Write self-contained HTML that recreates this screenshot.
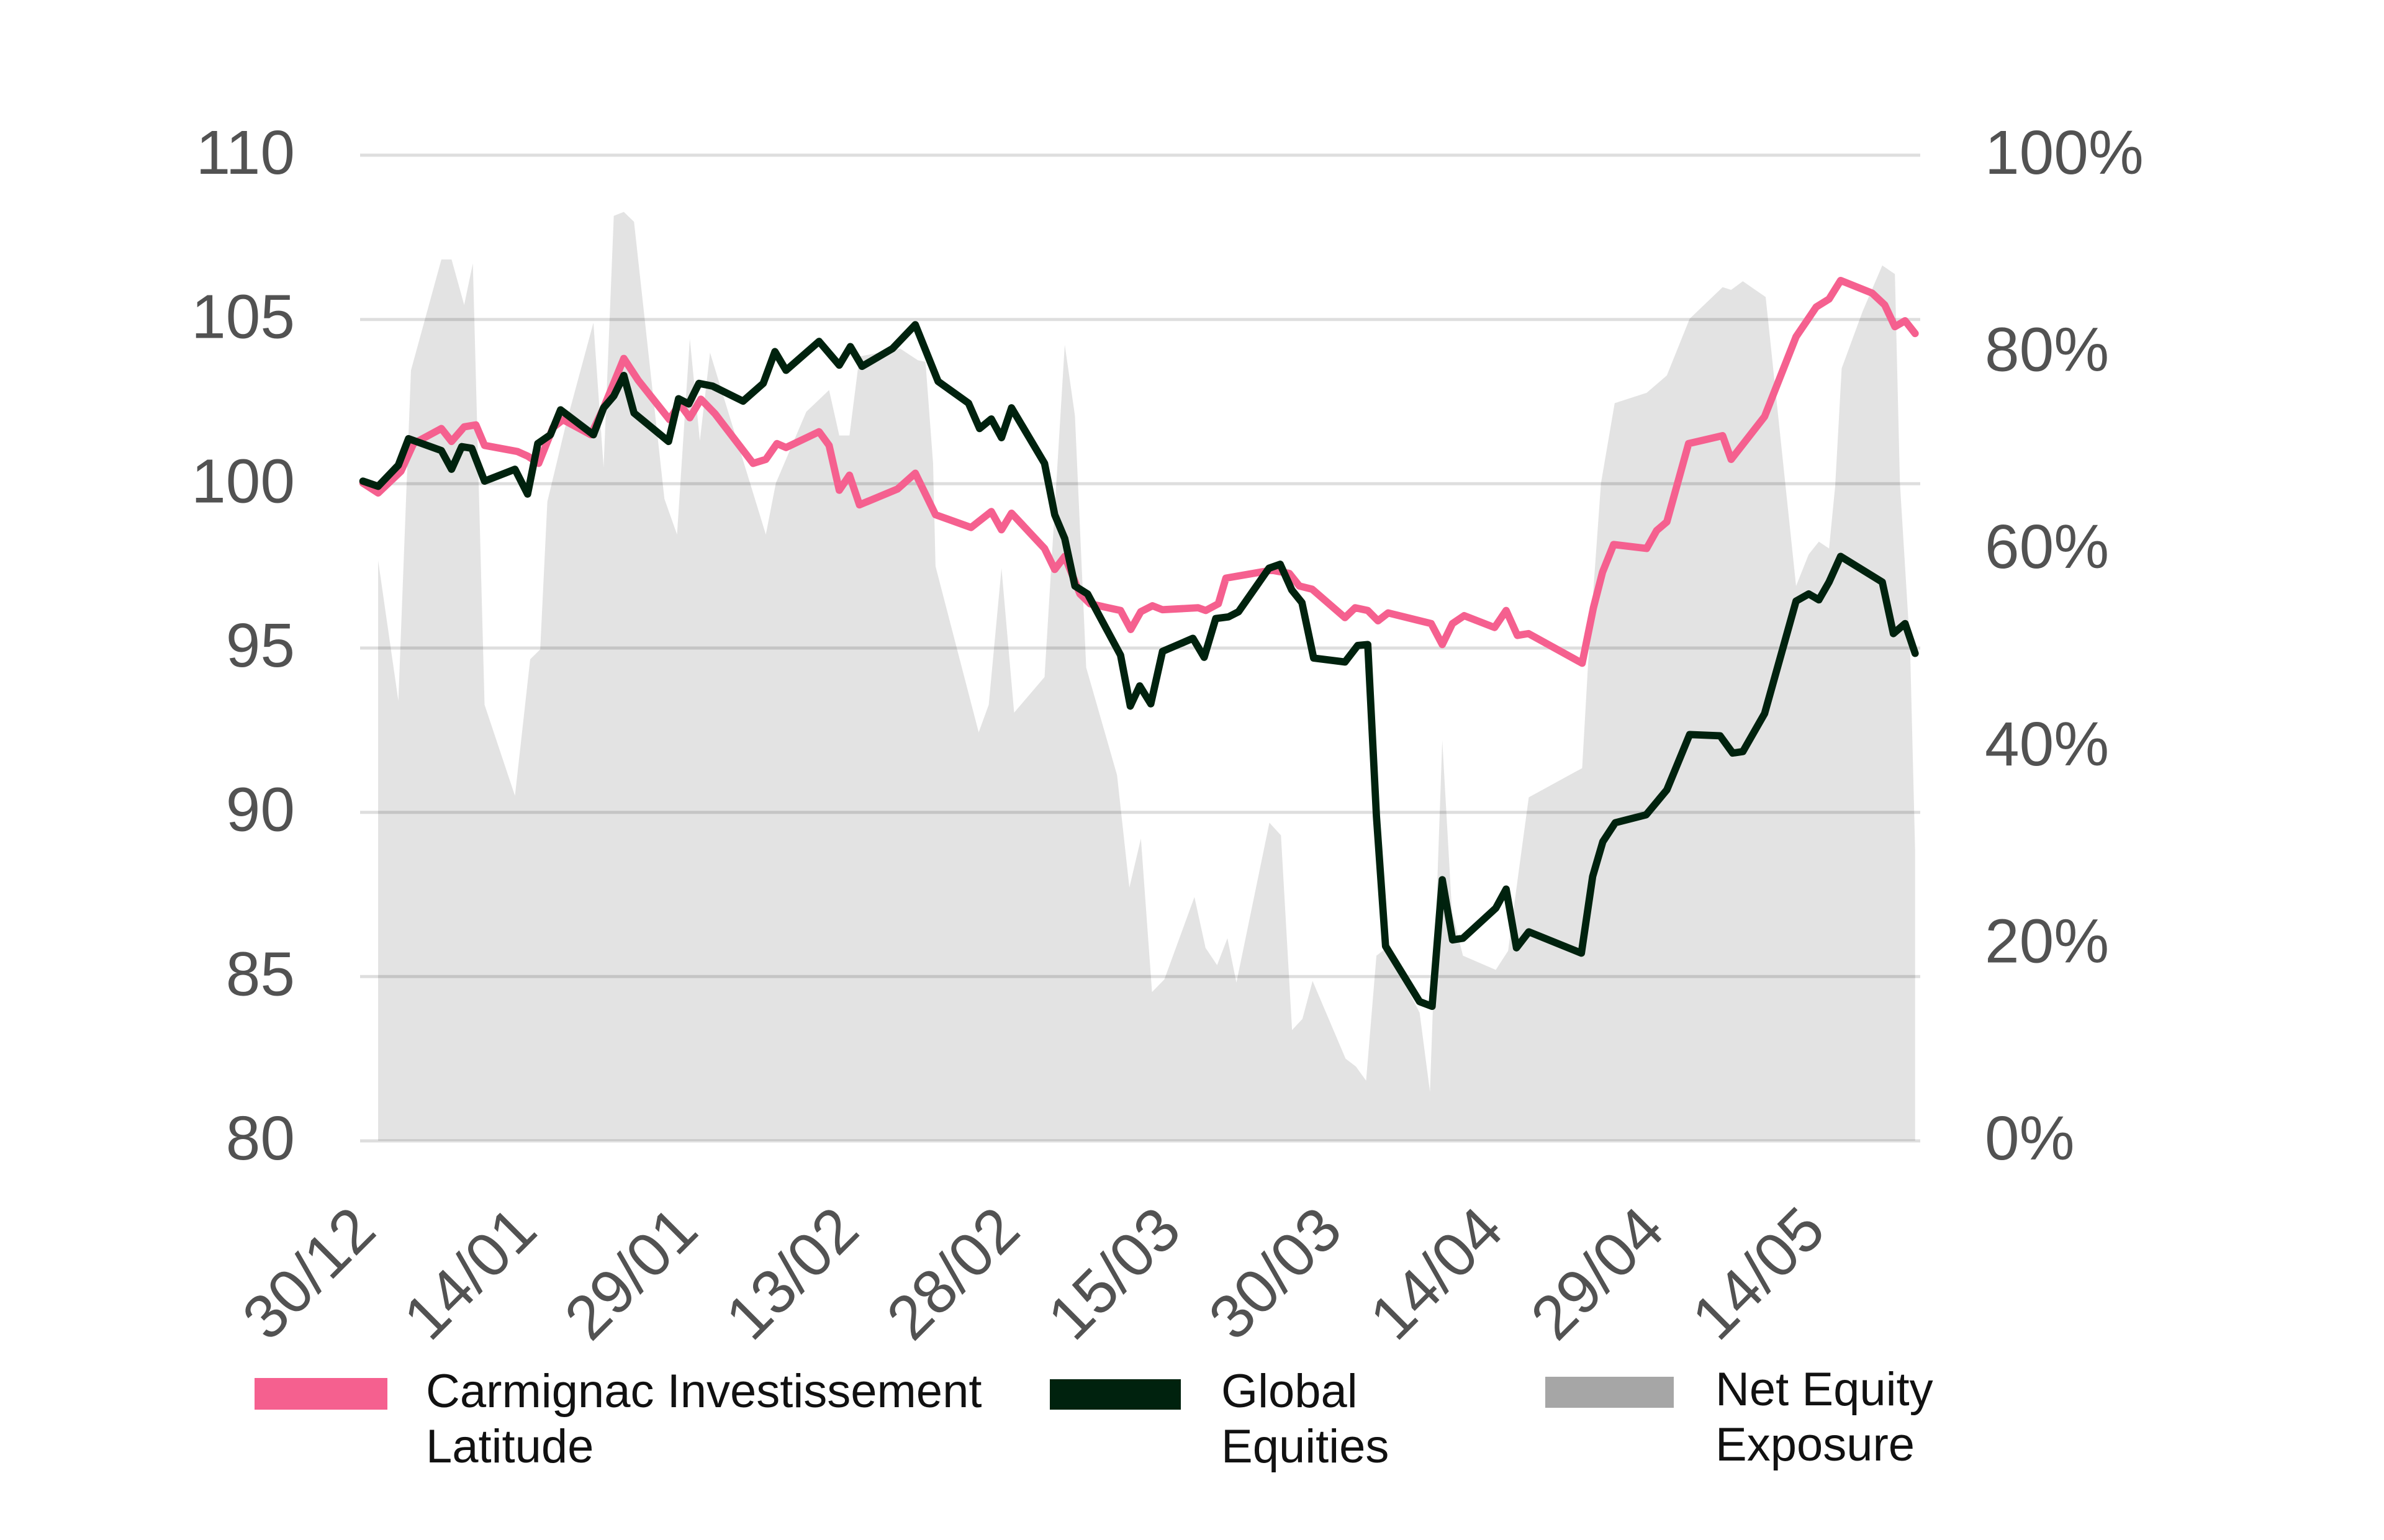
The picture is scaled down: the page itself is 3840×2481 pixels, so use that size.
<!DOCTYPE html>
<html>
<head>
<meta charset="utf-8">
<style>
  html, body { margin: 0; padding: 0; background: #ffffff; }
  svg { display: block; }
  .ax { font-family: "Liberation Sans", Arial, sans-serif; font-size: 100px; fill: #525252; }
  .lg { font-family: "Liberation Sans", Arial, sans-serif; font-size: 76px; fill: #111111; }
</style>
</head>
<body>
<svg width="3840" height="2481" viewBox="0 0 3840 2481" xmlns="http://www.w3.org/2000/svg">
  <rect x="0" y="0" width="3840" height="2481" fill="#ffffff"/>

  <!-- Net equity exposure area (display coords scaled) -->
  <g transform="scale(2.449)">
    <polygon fill="#e3e3e3" points="
      248.7,750.4 248.7,368.6 262,461 270.3,243.6 290.3,170.7 297,170.7 305.3,200.6 311,173.3
      318.7,463.6 338.7,523.5 348.7,433.7 355.3,427.2 360,330 372,280 390.3,212.3 397,307.4
      403.7,142 410.3,139.4 417,145.9 437,328.2 445.3,351.6 453.7,222.8 460.3,290 467,232
      503.7,351.6 510.3,317.8 530.3,270.9 545.3,256.6 552,286.5 558.7,286.5 565.3,234.5
      592,229.3 603.7,237 608.7,238 613.7,304.8 615.3,372.5 643.7,481.8 650.3,463.6
      658.7,373.8 667,468.8 687,445.4 700.3,226.7 707,273.5 714.4,439.1 734.7,509.9
      742.8,583.9 750.4,551.6 757.7,652.6 765.8,644.3 785.6,590.1 792.9,623.5 800.5,634.9
      807.3,617.2 813.2,646.4 834.9,541.2 842.5,549.5 849.8,677.6 856.6,670.3 863.3,645.3
      885,696.4 891.8,701.6 898.5,710.9 905.3,628.7 912.1,623.5 933.7,666.2 940.5,718.2
      948.6,487 955,600 962.2,628.7 983.8,638 991.9,625.5 998.7,574.5 1005.5,524.5
      1040.6,505.3 1044.6,435 1053,317.8 1062,265.2 1083,258.4 1096.3,247 1111.3,209.7
      1133,188.9 1138.6,190.7 1146.3,185 1161.3,195.4 1181.3,385.5 1189.6,364.7 1196.3,356.3
      1203,360.8 1207,320 1211.3,242.3 1225,205 1238,174.6 1246.3,180.3 1249.6,317.8
      1256.3,426.6 1259.6,560 1259.6,750.4"/>
  </g>

  <!-- gridlines -->
  <g stroke="rgba(0,0,0,0.13)" stroke-width="5">
    <line x1="580" y1="250" x2="3093" y2="250"/>
    <line x1="580" y1="514.7" x2="3093" y2="514.7"/>
    <line x1="580" y1="779.3" x2="3093" y2="779.3"/>
    <line x1="580" y1="1044" x2="3093" y2="1044"/>
    <line x1="580" y1="1308.7" x2="3093" y2="1308.7"/>
    <line x1="580" y1="1573.3" x2="3093" y2="1573.3"/>
    <line x1="580" y1="1838" x2="3093" y2="1838"/>
  </g>

  <!-- series -->
  <g transform="scale(2.449)" fill="none" stroke-linejoin="round" stroke-linecap="round">
    <polyline stroke="#f5608f" stroke-width="4.8" points="
      238.7,317.8 248.7,324.3 263.7,310 272,291.8 290.3,281.9 297,290.4 305.3,280.8 313,279.5
      318.7,293 340.3,297 347,300 354.3,304.8 363.7,281.3 370.3,276.1 388.7,286 397,268.3
      410.3,235.8 419.7,250.1 440.3,276 447,265.7 453.7,274.8 461,262.6 470.3,272.2 495.3,304.8
      503.7,302.2 511,291.8 517,294.4 538.7,284 545.3,293 552,322.5 558.7,312.6 565.3,332.1
      590.3,321.7 602,311.3 615.3,338.6 638.7,347 652,336.5 658.7,348.5 665.3,337.6 687,360.8
      693.7,374.6 700.3,366 710.3,390.7 717,397.2 737,401.6 743.7,414.1 750.3,402.4 758,398.5
      764.6,401.1 788,399.8 793,401.6 801.3,397.2 806.3,380.3 836.3,375.1 848,377.2 854.6,385.5
      863,387.6 884.6,406.3 891.3,399.8 899.6,401.6 906.3,408.4 913,403.2 941.3,410.2 948.6,424
      955.3,410.2 963,405 983,412.8 990.6,401.6 998,418 1005.3,416.8 1040.6,436.3 1048,399.8
      1054,376.4 1061.3,358.2 1083,360.8 1089.6,349 1096.3,343.3 1110.6,291.8 1133,286.6
      1138.6,302.2 1160.6,274 1181.3,221.5 1194.6,201.9 1203,196.7 1210.6,184.5 1231.3,192.8
      1239.6,200.6 1246.3,214.9 1253,211 1259.6,219.4"/>
    <polyline stroke="#00220e" stroke-width="4.8" points="
      238.7,316.5 248.7,319.9 262,306 268.7,288.6 290.3,296.4 297,308.7 303.7,293.8 310.3,294.9
      318.7,316.5 338.7,308.7 347,325 353.7,291.8 362,286 368.7,269.6 390.3,286 397,268.3
      403.7,260.5 410.3,247 417,271.7 439.7,290.4 446.3,262.3 453,265.7 459.7,252.2 468.7,254
      488.7,263.9 502,252.2 509.7,231.3 517,243.6 538.7,224.6 552,240.2 559.3,228 567,241
      587,229.3 602,213.6 617,250.9 637,265.2 644.3,281.9 652,275.6 658.7,287.9 665.3,268.3
      687,304.8 693.7,338.6 700.3,354.3 707,385.5 715.3,390.7 737,431 743.4,464.5 749.6,451.2
      756.9,463 764.6,428.5 784.6,419.9 792,432.4 799.6,406.9 808,405.8 814.6,402.4 834.6,373.8
      842,371.2 849.6,388.1 856.3,396.4 864,432.9 884.6,435.5 893,424.6 899.6,424 905.3,537
      911.3,622.4 933.7,658.9 941.9,662 948.6,578.7 955.4,618.3 962.2,617.2 983.8,597.4
      990.6,584.9 997.4,623.5 1005.5,613 1040.1,627 1047.5,576.6 1054.2,553.7 1062.4,541.2
      1082.7,536 1096.3,519.6 1111.3,483.2 1131.3,484 1139.6,495.4 1146.3,494.4 1160.6,469.4
      1181.3,395.4 1189.6,390.7 1196.3,394.6 1203,382.9 1210.6,366 1238,382.9 1245.3,416.8
      1253,410.2 1259.6,429.8"/>
  </g>

  <!-- left axis labels -->
  <g class="ax" text-anchor="end">
    <text x="475" y="280">110</text>
    <text x="475" y="544.7">105</text>
    <text x="475" y="809.3">100</text>
    <text x="475" y="1074">95</text>
    <text x="475" y="1338.7">90</text>
    <text x="475" y="1603.3">85</text>
    <text x="475" y="1868">80</text>
  </g>

  <!-- right axis labels -->
  <g class="ax" text-anchor="start">
    <text x="3197" y="280">100%</text>
    <text x="3197" y="597.6">80%</text>
    <text x="3197" y="915.2">60%</text>
    <text x="3197" y="1232.8">40%</text>
    <text x="3197" y="1550.4">20%</text>
    <text x="3197" y="1868">0%</text>
  </g>

  <!-- x axis labels -->
  <g class="ax" text-anchor="end">
    <text transform="translate(610,1987) rotate(-45)">30/12</text>
    <text transform="translate(869.4,1987) rotate(-45)">14/01</text>
    <text transform="translate(1128.8,1987) rotate(-45)">29/01</text>
    <text transform="translate(1388.2,1987) rotate(-45)">13/02</text>
    <text transform="translate(1647.6,1987) rotate(-45)">28/02</text>
    <text transform="translate(1907,1987) rotate(-45)">15/03</text>
    <text transform="translate(2166.4,1987) rotate(-45)">30/03</text>
    <text transform="translate(2425.8,1987) rotate(-45)">14/04</text>
    <text transform="translate(2685.2,1987) rotate(-45)">29/04</text>
    <text transform="translate(2944.6,1987) rotate(-45)">14/05</text>
  </g>

  <!-- legend -->
  <rect x="410" y="2220" width="214" height="51" fill="#f5608f"/>
  <text class="lg" x="686" y="2267">Carmignac Investissement</text>
  <text class="lg" x="686" y="2356">Latitude</text>

  <rect x="1691" y="2222" width="211" height="49" fill="#00220e"/>
  <text class="lg" x="1967" y="2267">Global</text>
  <text class="lg" x="1967" y="2356">Equities</text>

  <rect x="2489" y="2218" width="207" height="50" fill="#a6a6a6"/>
  <text class="lg" x="2763" y="2264">Net Equity</text>
  <text class="lg" x="2763" y="2353">Exposure</text>
</svg>
</body>
</html>
